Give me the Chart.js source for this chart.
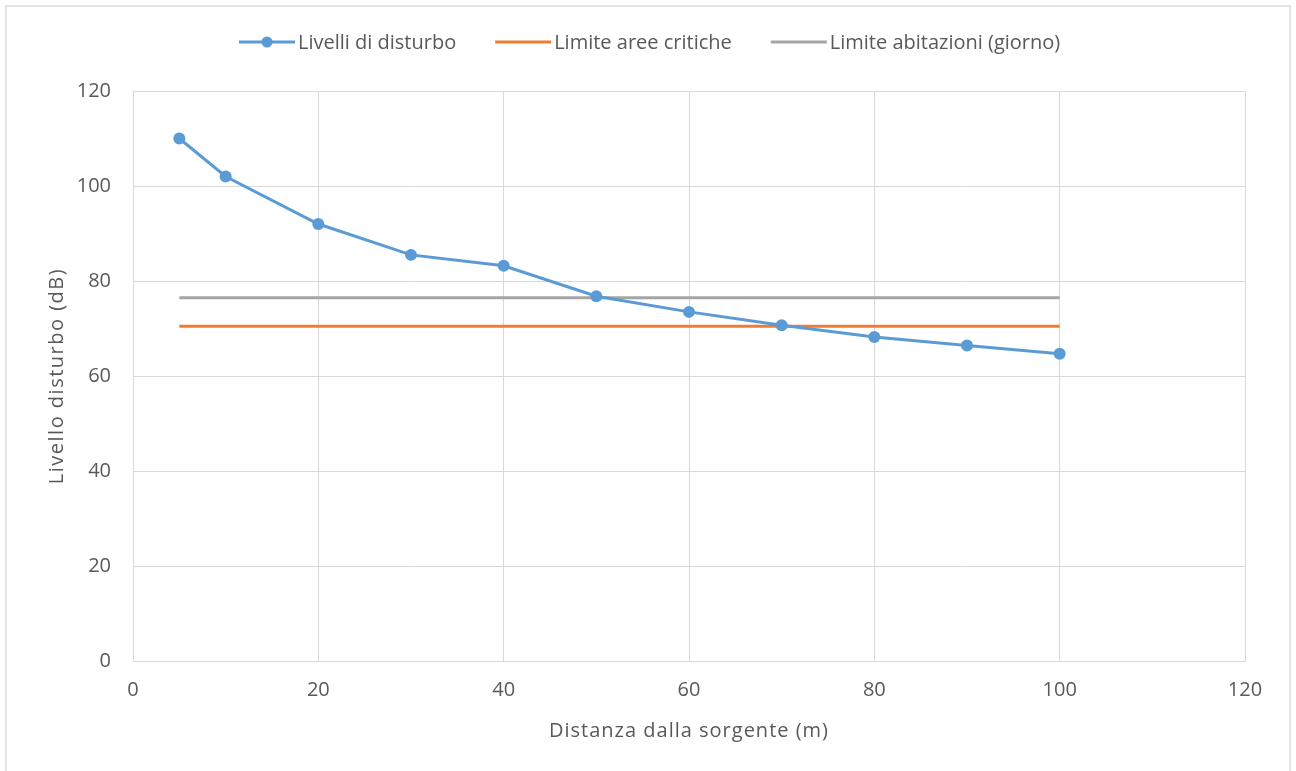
<!DOCTYPE html>
<html>
<head>
<meta charset="utf-8">
<script src="https://cdn.jsdelivr.net/npm/chart.js@4.4.1/dist/chart.umd.min.js"></script>
<style>
  html, body { margin: 0; padding: 0; background: #fff; overflow: hidden; }
  #wrap { position: relative; width: 1296px; height: 771px; }
  #frame { position: absolute; left: 5px; top: 5px; width: 1286px; height: 800px;
           border: 2px solid #e4e4e4; box-sizing: border-box; pointer-events: none; }
  canvas { position: absolute; left: 0; top: 0; }
</style>
</head>
<body>
<div id="wrap">
  <canvas id="chart" width="1296" height="771"></canvas>
  <div id="frame"></div>
</div>
<script>
// Distance from the source (m) and measured noise level (dB)
const distances = [5, 10, 20, 30, 40, 50, 60, 70, 80, 90, 100];
const noiseLevels = [110, 102, 92, 85.5, 83.2, 76.8, 73.5, 70.7, 68.2, 66.4, 64.7];

// Regulatory limits, drawn across the measured range
const limitSpan = [5, 100];
const limitCriticalAreas = [70.5, 70.5];
const limitHousingDay = [76.5, 76.5];

const seriesNames = ['Livelli di disturbo', 'Limite aree critiche', 'Limite abitazioni (giorno)'];
const xTicks = [0, 20, 40, 60, 80, 100, 120];
const yTicks = [0, 20, 40, 60, 80, 100, 120];
const xTitle = 'Distanza dalla sorgente (m)';
const yTitle = 'Livello disturbo (dB)';

const FONT_FAMILY = '"Open Sans", "Liberation Sans", sans-serif';
const FONT_SIZE = 20;
const TEXT_COLOR = '#595959';
const GRID_COLOR = '#d9d9d9';

const toPoints = (xs, ys) => xs.map((x, i) => ({ x: x, y: ys[i] }));

// Legend drawn as line samples (with marker where the series has one)
const lineLegend = {
  id: 'lineLegend',
  afterDraw(chart) {
    const ctx = chart.ctx;
    const sets = chart.data.datasets;
    const lineLen = 56, textGap = 3, itemGap = 39, y = 42;
    ctx.save();
    ctx.font = FONT_SIZE + 'px ' + FONT_FAMILY;
    ctx.textBaseline = 'middle';
    ctx.textAlign = 'left';
    const widths = sets.map(ds => lineLen + textGap + ctx.measureText(ds.label).width);
    const total = widths.reduce((a, b) => a + b, 0) + itemGap * (sets.length - 1);
    let x = Math.round(chart.width / 2 - total / 2) + 2;
    sets.forEach((ds, i) => {
      ctx.strokeStyle = ds.borderColor;
      ctx.lineWidth = ds.borderWidth;
      ctx.beginPath();
      ctx.moveTo(x, y);
      ctx.lineTo(x + lineLen, y);
      ctx.stroke();
      if (ds.pointRadius > 0) {
        ctx.fillStyle = ds.backgroundColor;
        ctx.beginPath();
        ctx.arc(x + lineLen / 2, y, 5.5, 0, Math.PI * 2);
        ctx.fill();
      }
      ctx.fillStyle = TEXT_COLOR;
      ctx.fillText(ds.label, x + lineLen + textGap, y + 1);
      x += widths[i] + itemGap;
    });
    ctx.restore();
  }
};

// Axis titles are set with a little extra tracking
const spacedTitles = {
  id: 'spacedTitles',
  afterLayout(chart) {
    Object.values(chart.scales).forEach(scale => {
      if (scale._spacedTitle) return;
      const original = scale.drawTitle;
      const spacing = scale.axis === 'y' ? '1.5px' : '1px';
      scale.drawTitle = function () {
        const ctx = this.ctx;
        const prev = ctx.letterSpacing;
        ctx.letterSpacing = spacing;
        original.apply(this, arguments);
        ctx.letterSpacing = prev || '0px';
      };
      scale._spacedTitle = true;
    });
  }
};

const axisFont = { family: FONT_FAMILY, size: FONT_SIZE };

new Chart(document.getElementById('chart'), {
  type: 'scatter',
  data: {
    datasets: [
      {
        label: seriesNames[0],
        data: toPoints(distances, noiseLevels),
        showLine: true,
        borderColor: '#5B9BD5',
        backgroundColor: '#5B9BD5',
        borderWidth: 3,
        pointRadius: 6,
        pointHoverRadius: 6,
        pointBorderWidth: 0
      },
      {
        label: seriesNames[1],
        data: toPoints(limitSpan, limitCriticalAreas),
        showLine: true,
        borderColor: '#ED7D31',
        backgroundColor: '#ED7D31',
        borderWidth: 3,
        pointRadius: 0
      },
      {
        label: seriesNames[2],
        data: toPoints(limitSpan, limitHousingDay),
        showLine: true,
        borderColor: '#A5A5A5',
        backgroundColor: '#A5A5A5',
        borderWidth: 3,
        pointRadius: 0
      }
    ]
  },
  options: {
    responsive: false,
    animation: false,
    devicePixelRatio: 1,
    layout: { padding: { top: 91, right: 51, bottom: 0, left: 0 } },
    plugins: {
      legend: { display: false },
      tooltip: { enabled: false }
    },
    scales: {
      x: {
        type: 'linear',
        min: 0,
        max: 120,
        afterBuildTicks: s => { s.ticks = xTicks.map(v => ({ value: v })); },
        afterFit: s => { s.height = 110; },
        grid: { color: GRID_COLOR, drawTicks: false },
        border: { color: GRID_COLOR, width: 1 },
        ticks: { font: axisFont, color: TEXT_COLOR, padding: 17, maxRotation: 0 },
        title: {
          display: true,
          text: xTitle,
          font: axisFont,
          color: TEXT_COLOR,
          padding: { top: 0, bottom: 28 }
        }
      },
      y: {
        type: 'linear',
        min: 0,
        max: 120,
        afterBuildTicks: s => { s.ticks = yTicks.map(v => ({ value: v })); },
        afterFit: s => { s.width = 133; },
        grid: { color: GRID_COLOR, drawTicks: false },
        border: { color: GRID_COLOR, width: 1 },
        ticks: { font: axisFont, color: TEXT_COLOR, padding: 22 },
        title: {
          display: true,
          text: yTitle,
          font: axisFont,
          color: TEXT_COLOR,
          padding: { top: 45, bottom: 0 }
        }
      }
    }
  },
  plugins: [spacedTitles, lineLegend]
});
</script>
</body>
</html>
